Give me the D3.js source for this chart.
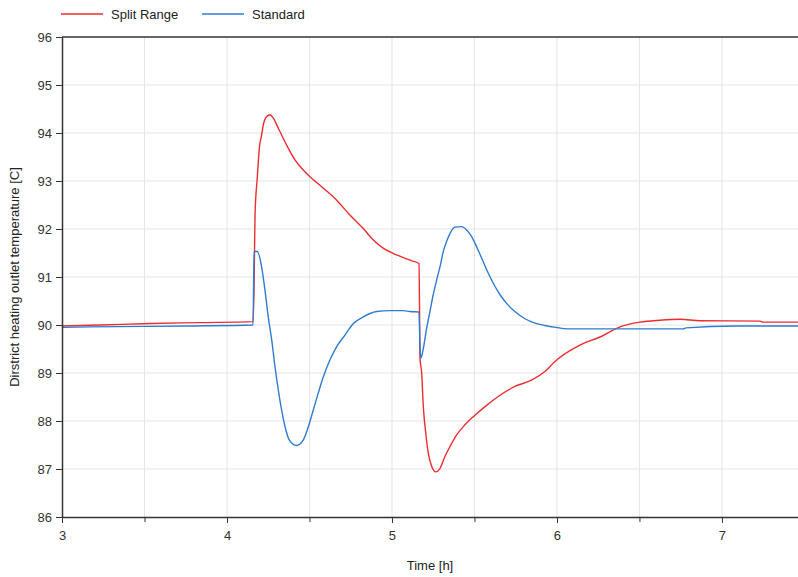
<!DOCTYPE html>
<html>
<head>
<meta charset="utf-8">
<script src="https://cdn.jsdelivr.net/npm/d3@7"></script>
<style>
  body { margin: 0; background: #fff; }
  svg { display: block; font-family: "Liberation Sans", Arial, sans-serif; }
  .grid line { stroke: #e4e4e4; stroke-width: 1; }
  .axis text { fill: #333; font-size: 13px; }
  .axis line, .axis path { stroke: #333; }
</style>
</head>
<body>
<div id="chart"></div>
<script>
// Split Range series (time [h], temperature [C])
const splitTime = [3.000, 3.230, 3.533, 3.836, 4.158, 4.164, 4.170, 4.184, 4.196, 4.210, 4.220, 4.240,
  4.261, 4.281, 4.311, 4.341, 4.372, 4.412, 4.462, 4.503, 4.584, 4.665, 4.745, 4.826, 4.887, 4.947,
  5.028, 5.109, 5.164, 5.170, 5.180, 5.190, 5.205, 5.220, 5.241, 5.265, 5.291, 5.321, 5.352, 5.392,
  5.442, 5.493, 5.564, 5.644, 5.745, 5.846, 5.927, 5.988, 6.139, 6.261, 6.382, 6.503, 6.624, 6.745,
  6.867, 7.230, 7.248, 7.461];
const splitTemp = [89.98, 90.00, 90.03, 90.05, 90.07, 90.76, 92.29, 93.09, 93.68, 93.96, 94.17, 94.34,
  94.38, 94.31, 94.10, 93.89, 93.68, 93.44, 93.23, 93.09, 92.85, 92.60, 92.29, 92.01, 91.77, 91.60,
  91.46, 91.35, 91.28, 89.30, 89.00, 88.30, 87.74, 87.33, 87.05, 86.94, 87.01, 87.26, 87.47, 87.71,
  87.92, 88.09, 88.30, 88.51, 88.72, 88.85, 89.03, 89.24, 89.58, 89.75, 89.96, 90.06, 90.10, 90.12,
  90.09, 90.08, 90.06, 90.06];

// Standard series
const stdTime = [3.000, 3.170, 3.776, 4.158, 4.164, 4.184, 4.210, 4.230, 4.250, 4.271, 4.291, 4.311,
  4.331, 4.352, 4.378, 4.422, 4.462, 4.493, 4.523, 4.553, 4.584, 4.624, 4.665, 4.715, 4.766, 4.826,
  4.907, 4.988, 5.069, 5.109, 5.164, 5.170, 5.176, 5.190, 5.210, 5.230, 5.250, 5.271, 5.291, 5.311,
  5.331, 5.352, 5.382, 5.422, 5.453, 5.483, 5.513, 5.544, 5.574, 5.614, 5.655, 5.695, 5.745, 5.806,
  5.867, 5.927, 5.994, 6.061, 6.764, 6.782, 7.079, 7.461];
const stdTemp = [89.95, 89.96, 89.98, 90.00, 91.53, 91.53, 91.21, 90.73, 90.17, 89.69, 89.13, 88.65,
  88.23, 87.88, 87.60, 87.49, 87.60, 87.88, 88.23, 88.58, 88.92, 89.27, 89.55, 89.79, 90.03, 90.17,
  90.28, 90.30, 90.30, 90.28, 90.27, 89.52, 89.31, 89.51, 89.93, 90.28, 90.63, 90.94, 91.21, 91.53,
  91.74, 91.91, 92.04, 92.05, 91.98, 91.84, 91.63, 91.39, 91.15, 90.87, 90.63, 90.45, 90.28, 90.13,
  90.04, 89.99, 89.95, 89.92, 89.92, 89.94, 89.98, 89.98];

const xTicks = [3, 4, 5, 6, 7];
const xMinorTicks = [3.5, 4.5, 5.5, 6.5];
const yTicks = [86, 87, 88, 89, 90, 91, 92, 93, 94, 95, 96];

const series = [
  { name: "Split Range", color: "#ec2d2f", time: splitTime, temp: splitTemp },
  { name: "Standard", color: "#2f7bd0", time: stdTime, temp: stdTemp }
];

const width = 798, height = 577;
const margin = { top: 37, right: 0, bottom: 60, left: 62 };

const svg = d3.select("#chart").append("svg")
  .attr("width", width)
  .attr("height", height);

const x = d3.scaleLinear().domain([3, 7.461]).range([margin.left, width - margin.right]);
const y = d3.scaleLinear().domain([86, 96]).range([height - margin.bottom, margin.top]);

// grid
const grid = svg.append("g").attr("class", "grid");
grid.selectAll(".vx")
  .data(xTicks.concat(xMinorTicks).filter(d => d > 3))
  .enter().append("line")
  .attr("x1", d => x(d)).attr("x2", d => x(d))
  .attr("y1", y(96)).attr("y2", y(86));
grid.selectAll(".hy")
  .data(yTicks.filter(d => d > 86 && d < 96))
  .enter().append("line")
  .attr("x1", x(3)).attr("x2", width)
  .attr("y1", d => y(d)).attr("y2", d => y(d));

// lines
const line = d3.line()
  .x(d => x(d[0]))
  .y(d => y(d[1]))
  .curve(d3.curveMonotoneX);

series.forEach(s => {
  svg.append("path")
    .datum(d3.zip(s.time, s.temp))
    .attr("fill", "none")
    .attr("stroke", s.color)
    .attr("stroke-width", 1.4)
    .attr("stroke-linejoin", "round")
    .attr("d", line);
});

// axes
const yAxis = svg.append("g")
  .attr("class", "axis")
  .attr("transform", `translate(${x(3)},0)`)
  .call(d3.axisLeft(y).tickValues(yTicks).tickSize(6).tickPadding(4).tickSizeOuter(0));
yAxis.select(".domain").attr("stroke-width", 1.5);

const xAxis = svg.append("g")
  .attr("class", "axis")
  .attr("transform", `translate(0,${y(86)})`)
  .call(d3.axisBottom(x).tickValues(xTicks).tickFormat(d3.format("d")).tickSize(6).tickPadding(8).tickSizeOuter(0));
xAxis.select(".domain").attr("stroke-width", 1.5);

svg.append("g")
  .attr("class", "axis")
  .attr("transform", `translate(0,${y(86)})`)
  .call(d3.axisBottom(x).tickValues(xMinorTicks).tickFormat("").tickSize(5).tickSizeOuter(0))
  .select(".domain").remove();

// top frame line
svg.append("line")
  .attr("x1", x(3)).attr("x2", width)
  .attr("y1", y(96)).attr("y2", y(96))
  .attr("stroke", "#333").attr("stroke-width", 1.5);

// axis titles
svg.append("text")
  .attr("x", (x(3) + width) / 2)
  .attr("y", 570)
  .attr("text-anchor", "middle")
  .attr("font-size", 13)
  .attr("fill", "#222")
  .text("Time [h]");

svg.append("text")
  .attr("transform", `translate(19,${(y(86) + y(96)) / 2}) rotate(-90)`)
  .attr("text-anchor", "middle")
  .attr("font-size", 13)
  .attr("fill", "#222")
  .text("Dirstrict heating outlet temperature [C]");

// legend
const legendPos = [61, 202];
series.forEach((s, i) => {
  const g = svg.append("g").attr("transform", `translate(${legendPos[i]},14)`);
  g.append("line").attr("x1", 0).attr("x2", 42).attr("y1", 0).attr("y2", 0)
    .attr("stroke", s.color).attr("stroke-width", 1.4);
  g.append("text").attr("x", 50).attr("y", 5)
    .attr("font-size", 13).attr("fill", "#222")
    .text(s.name);
});
</script>
</body>
</html>
